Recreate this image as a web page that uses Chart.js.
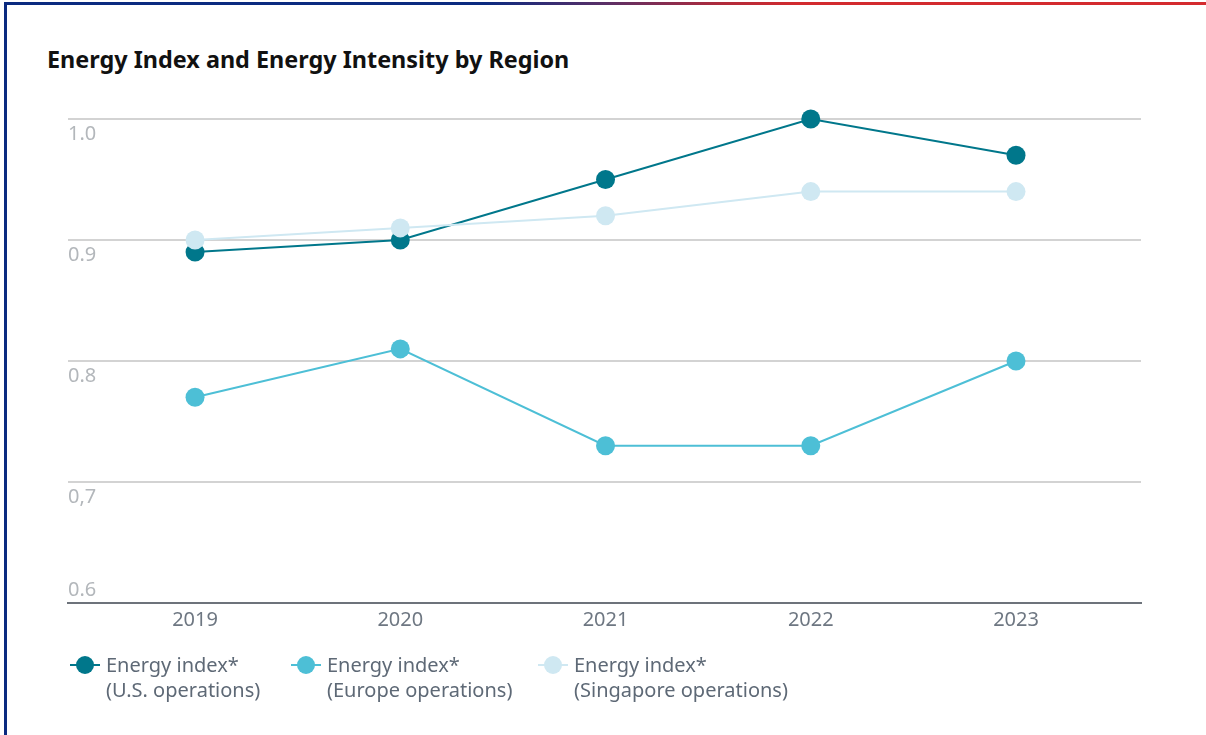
<!DOCTYPE html>
<html>
<head>
<meta charset="utf-8">
<script src="https://cdn.jsdelivr.net/npm/chart.js@4.4.1/dist/chart.umd.min.js"></script>
<style>
  html, body { margin:0; padding:0; background:#fff; }
  body { width:1206px; height:735px; position:relative; overflow:hidden; font-family:"Noto Sans", "Open Sans", sans-serif; }
  #topbar { position:absolute; left:4px; top:2px; width:1202px; height:3px;
    background: linear-gradient(to right, #0b2a80 0%, #0b2a80 40%, #5a2f66 50%, #b22a3a 60%, #d22a2e 66%, #d42a2e 100%); }
  #leftbar { position:absolute; left:4px; top:2px; width:3px; height:733px; background:#0b2a80; }
  #title { position:absolute; left:47px; top:43px; font-size:23.4px; font-weight:700; color:#111; white-space:nowrap; }
  #chartWrap { position:absolute; left:0; top:0; width:1206px; height:735px; }
  #legend { position:absolute; left:0; top:652px; width:1206px; height:60px; }
  .li { position:absolute; top:0; display:flex; align-items:flex-start; }
  .mk { position:relative; width:30px; height:26px; margin-right:6px; }
  .mk .ln { position:absolute; left:0; top:12px; width:30px; height:2px; }
  .mk .dot { position:absolute; left:6px; top:4px; width:18px; height:18px; border-radius:50%; }
  .tx { font-size:20px; line-height:25px; color:#5e6976; white-space:nowrap; }
</style>
</head>
<body>
<div id="topbar"></div>
<div id="leftbar"></div>
<div id="title"></div>
<div id="chartWrap"><canvas id="c" width="1206" height="735"></canvas></div>
<div id="legend"></div>
<script>
const titleText = "Energy Index and Energy Intensity by Region";
const years = [2019, 2020, 2021, 2022, 2023];
const usValues = [0.89, 0.90, 0.95, 1.00, 0.97];
const europeValues = [0.77, 0.81, 0.73, 0.73, 0.80];
const singaporeValues = [0.90, 0.91, 0.92, 0.94, 0.94];
const yTickValues = [1.0, 0.9, 0.8, 0.7, 0.6];
const yTickLabels = ["1.0", "0.9", "0.8", "0,7", "0.6"];
const seriesLabels = [
  ["Energy index*", "(U.S. operations)"],
  ["Energy index*", "(Europe operations)"],
  ["Energy index*", "(Singapore operations)"]
];
const seriesColors = ["#00778b", "#4dbfd6", "#cfe8f2"];
const legendLefts = [70, 291, 538];

document.getElementById('title').textContent = titleText;

const seriesValues = [usValues, europeValues, singaporeValues];
const drawOrder = [1, 2, 0];

const yLabelPlugin = {
  id: 'yLabels',
  afterDraw(chart) {
    const ctx = chart.ctx;
    const ys = chart.scales.y;
    const left = chart.chartArea.left;
    ctx.save();
    ctx.font = '20px "Noto Sans"';
    ctx.fillStyle = '#b3b7bb';
    ctx.textAlign = 'left';
    ctx.textBaseline = 'middle';
    yTickValues.forEach((v, i) => {
      const py = ys.getPixelForValue(v);
      const off = (i === yTickValues.length - 1) ? -13 : 15;
      ctx.fillText(yTickLabels[i], left, py + off);
    });
    ctx.restore();
  }
};

const chart = new Chart(document.getElementById('c'), {
  type: 'line',
  data: {
    datasets: seriesValues.map((vals, i) => ({
      label: seriesLabels[i].join(' '),
      data: years.map((yr, j) => ({ x: yr, y: vals[j] })),
      borderColor: seriesColors[i],
      backgroundColor: seriesColors[i],
      pointBackgroundColor: seriesColors[i],
      pointBorderWidth: 0,
      borderWidth: 2,
      pointRadius: 9.5,
      pointHoverRadius: 9.5,
      tension: 0,
      clip: false,
      order: drawOrder[i]
    }))
  },
  options: {
    responsive: false,
    animation: false,
    events: [],
    layout: { padding: { left: 68, right: 65, top: 119, bottom: 92 } },
    plugins: { legend: { display: false }, tooltip: { enabled: false } },
    scales: {
      x: {
        type: 'linear',
        min: 2018.381,
        max: 2023.609,
        afterBuildTicks: s => { s.ticks = years.map(v => ({ value: v })); },
        afterFit: s => { s.height = 40; },
        grid: { display: false, drawTicks: false },
        border: { display: true, color: '#6d737b', width: 2 },
        ticks: {
          callback: v => String(v),
          color: '#6e7782',
          font: { family: 'Noto Sans', size: 20 },
          padding: 5,
          maxRotation: 0
        }
      },
      y: {
        min: 0.6,
        max: 1.0,
        afterBuildTicks: s => { s.ticks = yTickValues.map(v => ({ value: v })); },
        afterFit: s => { s.width = 0; },
        ticks: { display: false },
        grid: { color: '#d3d3d3', lineWidth: 2, drawTicks: false },
        border: { display: false }
      }
    }
  },
  plugins: [yLabelPlugin]
});

const legend = document.getElementById('legend');
seriesLabels.forEach((lines, i) => {
  const item = document.createElement('div');
  item.className = 'li';
  item.style.left = legendLefts[i] + 'px';
  const mk = document.createElement('div');
  mk.className = 'mk';
  const ln = document.createElement('div'); ln.className = 'ln'; ln.style.background = seriesColors[i];
  const dot = document.createElement('div'); dot.className = 'dot'; dot.style.background = seriesColors[i];
  mk.appendChild(ln); mk.appendChild(dot);
  const tx = document.createElement('div');
  tx.className = 'tx';
  tx.innerHTML = lines.map(l => l.replace(/&/g,'&amp;').replace(/</g,'&lt;')).join('<br>');
  item.appendChild(mk); item.appendChild(tx);
  legend.appendChild(item);
});
</script>
</body>
</html>
